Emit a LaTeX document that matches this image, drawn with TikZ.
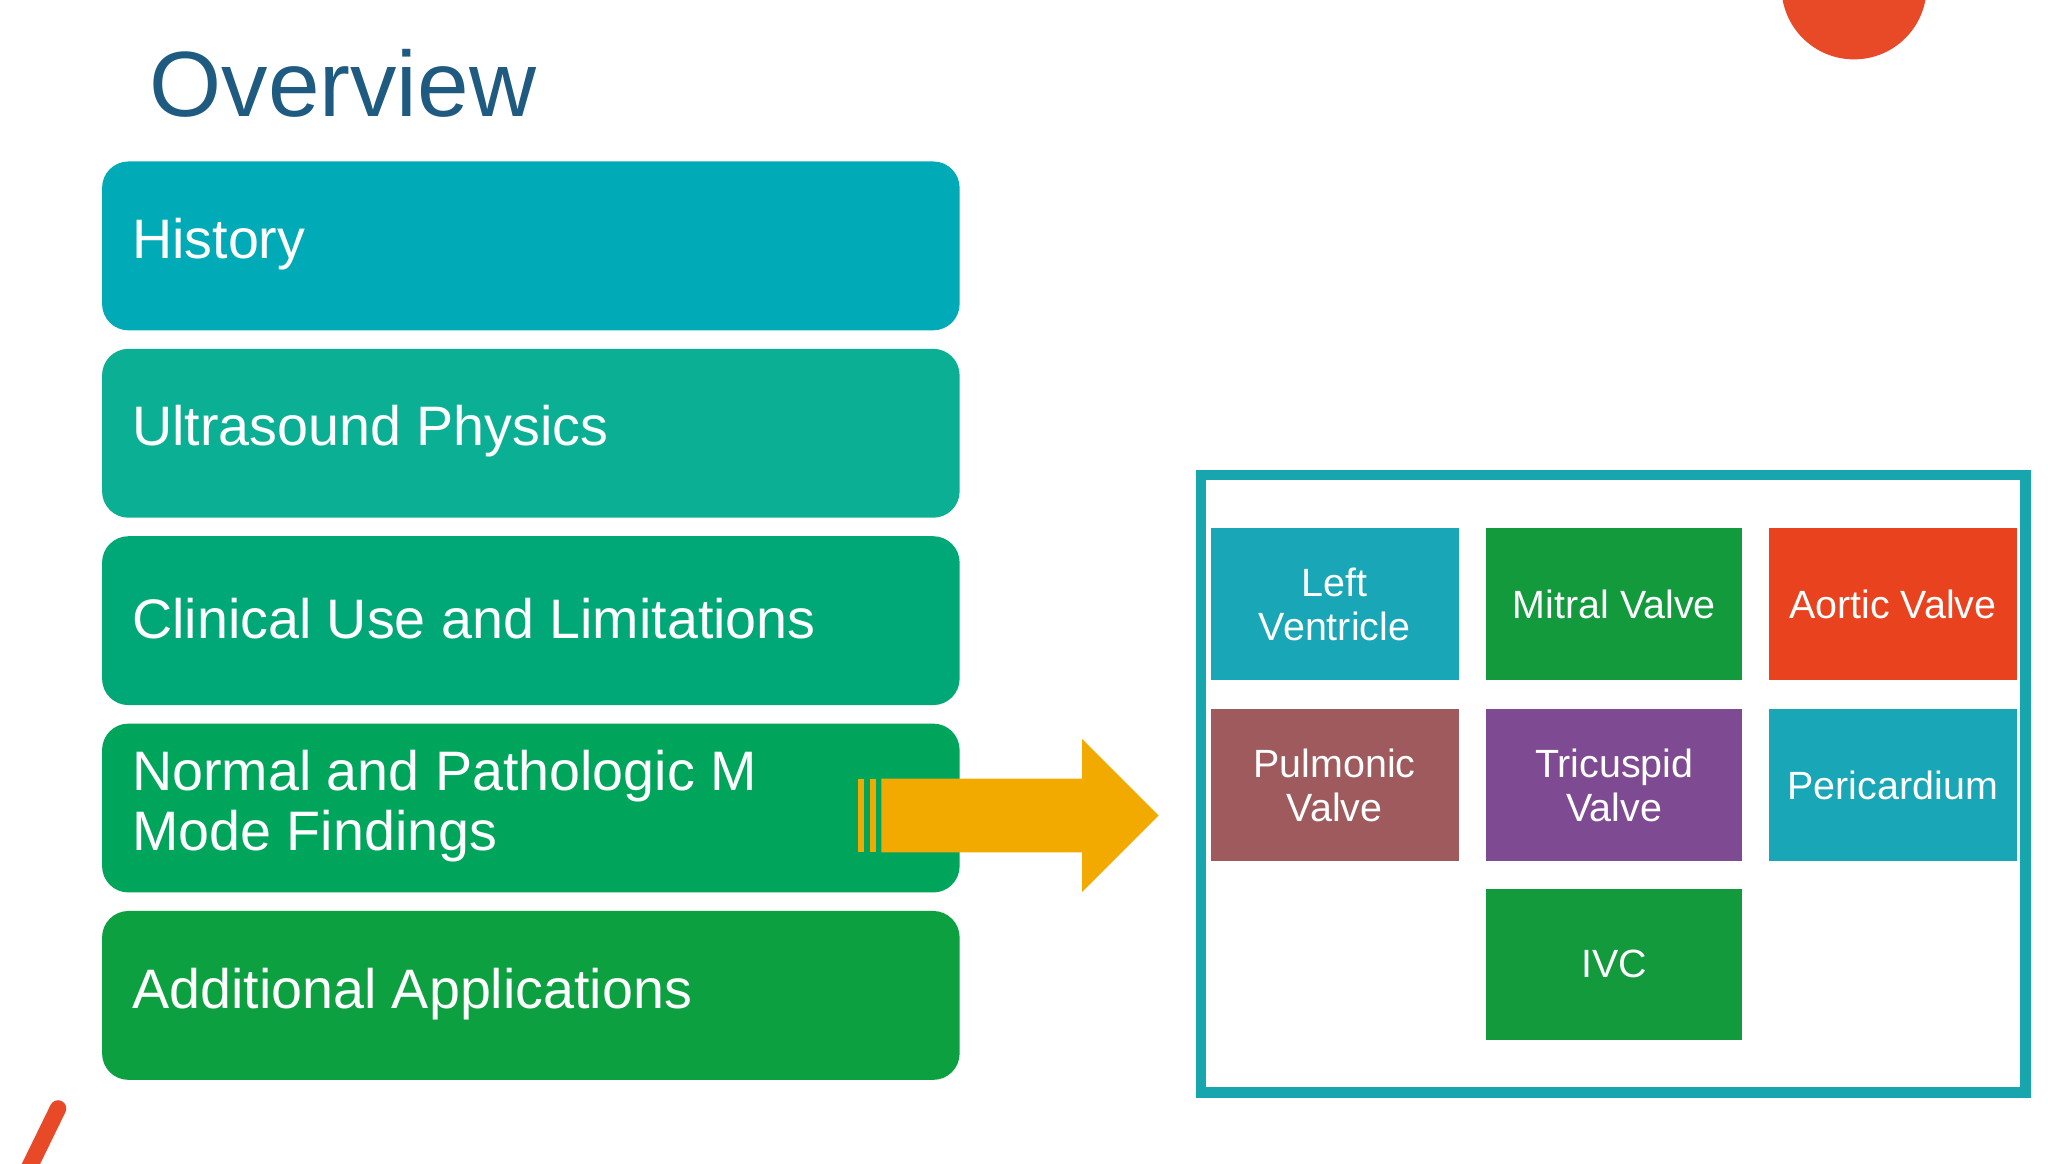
\documentclass[tikz,border=0pt]{standalone}
\usepackage{fontspec}
\setmainfont{Liberation Sans}
\definecolor{titleblue}{HTML}{1F5A80}
\definecolor{accent}{HTML}{E84A27}
\definecolor{barA}{HTML}{00AAB6}
\definecolor{barB}{HTML}{0BB094}
\definecolor{barC}{HTML}{00A878}
\definecolor{barD}{HTML}{00A55C}
\definecolor{barE}{HTML}{0CA040}
\definecolor{arrowc}{HTML}{F2A900}
\definecolor{frame}{HTML}{17A5AE}
\definecolor{tLV}{HTML}{19A6B6}
\definecolor{tMV}{HTML}{139A3C}
\definecolor{tAV}{HTML}{E8431E}
\definecolor{tPV}{HTML}{9E5A5C}
\definecolor{tTV}{HTML}{7E4A92}
\begin{document}
\begin{tikzpicture}[x=0.02cm,y=-0.02cm,
  bar/.style={rounded corners=0.4cm,minimum width=13cm,minimum height=2.56cm,
    inner sep=0pt,anchor=north west,text=white},
  bartext/.style={anchor=west,text=white,font=\fontsize{24}{26}\selectfont,align=left},
  tile/.style={minimum height=2.3cm,inner sep=0pt,anchor=north west,text=white,
    font=\fontsize{17}{19}\selectfont,align=center}]
  \useasboundingbox (0,0) rectangle (1552,882);
  % decorations
  \begin{scope}
    \clip (0,0) rectangle (1552,882);
    \fill[accent] (1405,-10) circle (55);
    \draw[accent,line width=0.25cm,line cap=round] (44,840) -- (22,885);
  \end{scope}
  \node[anchor=base west,text=titleblue,font=\fontsize{40}{46}\selectfont,inner sep=0pt] (title) at (113,88) {Overview};
  % bars
  \node[bar,fill=barA] (b1) at (77,122) {};
  \node[bar,fill=barB] (b2) at (77,264) {};
  \node[bar,fill=barC] (b3) at (77,406) {};
  \node[bar,fill=barD] (b4) at (77,548) {};
  \node[bar,fill=barE] (b5) at (77,690) {};
  \node[bartext] (t1) at (94,185) {History};
  \node[bartext] (t2) at (94,327) {Ultrasound Physics};
  \node[bartext] (t3) at (94,469) {Clinical Use and Limitations};
  \node[bartext] (t4) at (94,611) {Normal and Pathologic M\\Mode Findings};
  \node[bartext] (t5) at (94,753) {Additional Applications};
  % arrow
  \fill[arrowc] (668,590) -- (820,590) -- (820,560) -- (878,618) -- (820,676)
    -- (820,646) -- (668,646) -- cycle;
  \fill[arrowc] (650,590) rectangle (655,646);
  \fill[arrowc] (659,590) rectangle (664,646);
  % frame
  \draw[frame,line width=0.16cm] (910,360) rectangle (1535,828);
  % tiles
  \node[tile,fill=tLV,minimum width=3.76cm] (lv) at (917,400) {Left\\Ventricle};
  \node[tile,fill=tMV,minimum width=3.88cm] (mv) at (1126,400) {Mitral Valve};
  \node[tile,fill=tAV,minimum width=3.76cm] (av) at (1340,400) {Aortic Valve};
  \node[tile,fill=tPV,minimum width=3.76cm] (pv) at (917,537) {Pulmonic\\Valve};
  \node[tile,fill=tTV,minimum width=3.88cm] (tv) at (1126,537) {Tricuspid\\Valve};
  \node[tile,fill=tLV,minimum width=3.76cm] (pc) at (1340,537) {Pericardium};
  \node[tile,fill=tMV,minimum width=3.88cm] (ivc) at (1126,673) {IVC};
\end{tikzpicture}
\end{document}
